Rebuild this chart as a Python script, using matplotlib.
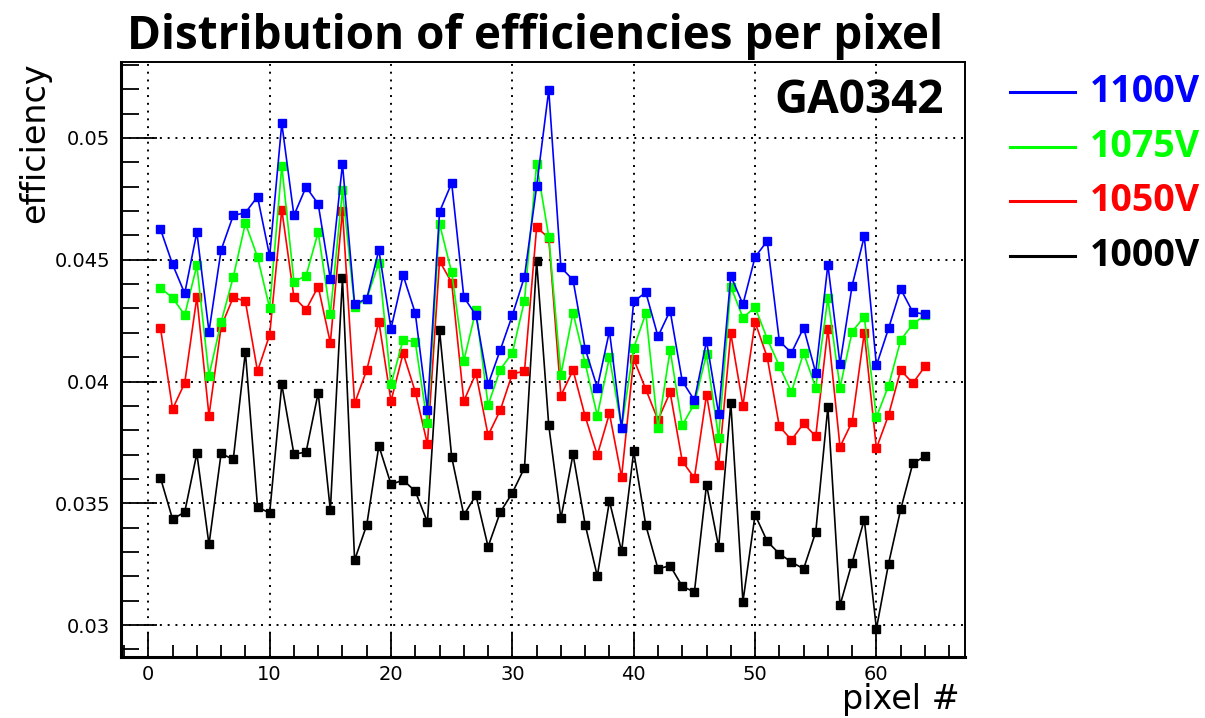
import numpy as np
import matplotlib
matplotlib.use('Agg')
import matplotlib.pyplot as plt
from matplotlib.ticker import MultipleLocator

pixels = np.arange(1, 65)

# efficiencies
eff_1100 = [0.04626, 0.04481, 0.04362, 0.04613, 0.04205, 0.04540, 0.04682, 0.04693,
            0.04759, 0.04515, 0.05060, 0.04682, 0.04799, 0.04729, 0.04421, 0.04893,
            0.04318, 0.04340, 0.04540, 0.04217, 0.04436, 0.04281, 0.03884, 0.04697,
            0.04815, 0.04347, 0.04272, 0.03988, 0.04129, 0.04272, 0.04430, 0.04801,
            0.05197, 0.04469, 0.04417, 0.04135, 0.03975, 0.04207, 0.03808, 0.04329,
            0.04366, 0.04185, 0.04291, 0.04002, 0.03923, 0.04166, 0.03867, 0.04434,
            0.04317, 0.04511, 0.04577, 0.04166, 0.04118, 0.04221, 0.04036, 0.04480,
            0.04072, 0.04394, 0.04596, 0.04066, 0.04218, 0.04380, 0.04285, 0.04276]
eff_1075 = [0.04384, 0.04344, 0.04273, 0.04477, 0.04024, 0.04244, 0.04429, 0.04650,
            0.04511, 0.04302, 0.04885, 0.04410, 0.04434, 0.04614, 0.04277, 0.04786,
            0.04307, 0.04340, 0.04488, 0.03988, 0.04172, 0.04162, 0.03828, 0.04647,
            0.04448, 0.04085, 0.04294, 0.03903, 0.04049, 0.04118, 0.04332, 0.04893,
            0.04595, 0.04028, 0.04283, 0.04075, 0.03860, 0.04100, 0.03810, 0.04138,
            0.04280, 0.03808, 0.04129, 0.03820, 0.03909, 0.04113, 0.03768, 0.04390,
            0.04262, 0.04305, 0.04176, 0.04064, 0.03957, 0.04118, 0.03975, 0.04342,
            0.03975, 0.04205, 0.04266, 0.03854, 0.03983, 0.04170, 0.04236, 0.04272]
eff_1050 = [0.04221, 0.03887, 0.03994, 0.04346, 0.03860, 0.04225, 0.04346, 0.04329,
            0.04042, 0.04192, 0.04706, 0.04347, 0.04295, 0.04390, 0.04159, 0.04702,
            0.03910, 0.04047, 0.04246, 0.03920, 0.04116, 0.03958, 0.03743, 0.04495,
            0.04406, 0.03920, 0.04034, 0.03779, 0.03882, 0.04032, 0.04042, 0.04633,
            0.04590, 0.03942, 0.04047, 0.03857, 0.03698, 0.03869, 0.03608, 0.04092,
            0.03968, 0.03842, 0.03956, 0.03673, 0.03604, 0.03946, 0.03656, 0.04198,
            0.03901, 0.04244, 0.04100, 0.03816, 0.03760, 0.03828, 0.03775, 0.04217,
            0.03732, 0.03835, 0.04200, 0.03726, 0.03862, 0.04047, 0.03993, 0.04062]
eff_1000 = [0.03605, 0.03435, 0.03464, 0.03705, 0.03331, 0.03705, 0.03680, 0.04122,
            0.03485, 0.03460, 0.03988, 0.03702, 0.03710, 0.03954, 0.03471, 0.04424,
            0.03267, 0.03411, 0.03736, 0.03578, 0.03595, 0.03550, 0.03423, 0.04211,
            0.03690, 0.03452, 0.03533, 0.03322, 0.03463, 0.03543, 0.03646, 0.04494,
            0.03820, 0.03438, 0.03701, 0.03413, 0.03201, 0.03509, 0.03303, 0.03713,
            0.03409, 0.03231, 0.03244, 0.03159, 0.03136, 0.03576, 0.03320, 0.03913,
            0.03096, 0.03453, 0.03344, 0.03293, 0.03259, 0.03231, 0.03382, 0.03895,
            0.03081, 0.03257, 0.03433, 0.02985, 0.03252, 0.03475, 0.03664, 0.03693]

labels = ['1100V', '1075V', '1050V', '1000V']
colors = ['#0000ff', '#00ff00', '#ff0000', '#000000']
series = [eff_1100, eff_1075, eff_1050, eff_1000]

fig = plt.figure(figsize=(12.05, 7.18), dpi=100)
ax = fig.add_axes([121/1205, 61/718, 844/1205, 595/718])

# draw black first so blue ends up on top
for vals, col in zip(series[::-1], colors[::-1]):
    ax.plot(pixels, vals, color=col, lw=1.2, marker='s', ms=6.2, mec=col, mfc=col)

ax.set_xlim(-2.25, 67.3)
ax.set_ylim(0.02869, 0.05312)

ax.xaxis.set_major_locator(MultipleLocator(10))
ax.xaxis.set_minor_locator(MultipleLocator(2))
ax.yaxis.set_major_locator(MultipleLocator(0.005))
ax.yaxis.set_minor_locator(MultipleLocator(0.001))
ax.set_yticks([0.03, 0.035, 0.04, 0.045, 0.05])
ax.set_yticklabels(['0.03', '0.035', '0.04', '0.045', '0.05'])

ax.tick_params(which='both', direction='in', top=False, right=False,
               labelsize=14, width=1.3, colors='black')
ax.tick_params(axis='y', which='major', length=26, pad=8)
ax.tick_params(axis='y', which='minor', length=13)
ax.tick_params(axis='x', which='major', length=18, pad=6)
ax.tick_params(axis='x', which='minor', length=9)

ax.grid(True, which='major', color='black', ls=(0, (1, 3)), lw=1.4)

for side in ['left', 'bottom']:
    ax.spines[side].set_linewidth(2.2)
for side in ['top', 'right']:
    ax.spines[side].set_linewidth(1.4)

ax.text(0.975, 0.975, 'GA0342', transform=ax.transAxes, ha='right', va='top',
        fontsize=33, fontweight='bold', family='Open Sans')

fig.text(535/1205, 1 - 36/718, 'Distribution of efficiencies per pixel',
         ha='center', va='center', fontsize=33, fontweight='bold',
         family='Open Sans')
fig.text(35/1205, 1 - 62/718, 'efficiency', rotation=90, ha='center', va='top',
         fontsize=24)
fig.text(960/1205, 1 - 716/718, 'pixel #', ha='right', va='bottom', fontsize=24)

# legend outside the frame, drawn by hand
leg_y = [92, 147, 201, 256]
for lab, col, yy in zip(labels, colors, leg_y):
    yf = 1 - yy / 718
    fig.add_artist(plt.Line2D([1010/1205, 1075/1205], [yf, yf], color=col, lw=2.2))
    fig.text(1090/1205, yf, lab, color=col, ha='left', va='center',
             fontsize=27, fontweight='bold', family='Open Sans')

fig.savefig('out.png', dpi=100)
